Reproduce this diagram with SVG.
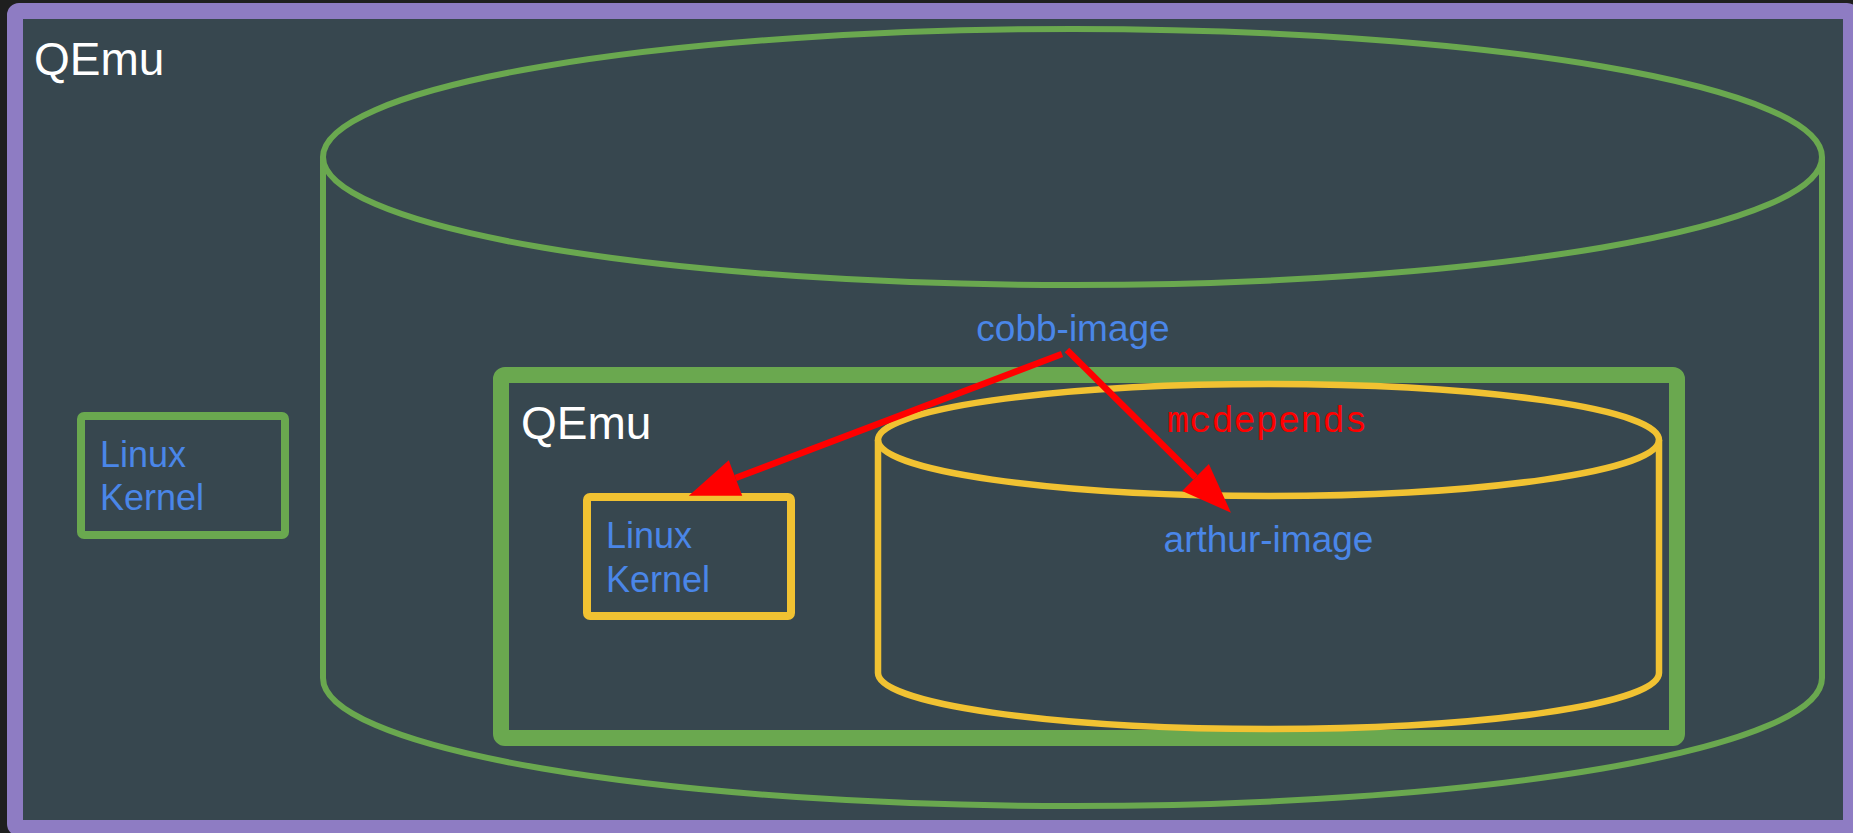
<svg xmlns="http://www.w3.org/2000/svg" width="1853" height="833" viewBox="0 0 1853 833">
  <defs>
    <style>
      .bg { fill: #1f1f1f; }
      .frame { fill: #37474f; stroke: #8e7cc3; stroke-width: 16; }
      .gcyl { fill: none; stroke: #6aa84f; stroke-width: 6; }
      .ycyl { fill: none; stroke: #f1c232; stroke-width: 6.5; }
      .grect { fill: none; stroke: #6aa84f; stroke-width: 16; }
      .gbox { fill: none; stroke: #6aa84f; stroke-width: 8; }
      .ybox { fill: none; stroke: #f1c232; stroke-width: 8; }
      .title { font-family: "Liberation Sans", Arial, sans-serif; font-size: 46px; fill: #ffffff; }
      .lbl { font-family: "Liberation Sans", Arial, sans-serif; font-size: 36px; fill: #4a86e8; }
      .img { font-family: "Liberation Sans", Arial, sans-serif; font-size: 37px; fill: #4a86e8; text-anchor: middle; }
      .elbl { font-family: "Liberation Mono", "Courier New", monospace; font-size: 37px; fill: #ff0000; }
      .edge { stroke: #ff0000; stroke-width: 6.5; fill: none; }
    </style>
    <marker id="arrow" markerUnits="userSpaceOnUse" markerWidth="50" markerHeight="38" refX="0" refY="19" orient="auto" overflow="visible">
      <path d="M0,0 L50,19 L0,38 z" fill="#ff0000"/>
    </marker>
  </defs>
  <rect class="bg" x="0" y="0" width="1853" height="833"/>
  <g id="qemu-outer">
    <rect class="frame" x="15" y="11" width="1836" height="817" rx="4"/>
    <text class="title" x="34" y="75">QEmu</text>
  </g>
  <g id="linux-kernel-outer">
    <rect class="gbox" x="81" y="416" width="204" height="119" rx="3"/>
    <text class="lbl" x="100" y="467">Linux</text>
    <text class="lbl" x="100" y="510">Kernel</text>
  </g>
  <g id="cobb-image">
    <path class="gcyl" d="M323,157 L323,678 A749.5,128 0 0 0 1822,678 L1822,157"/>
    <ellipse class="gcyl" cx="1072.5" cy="157" rx="749.5" ry="128"/>
    <text class="img" x="1073" y="341">cobb-image</text>
  </g>
  <g id="qemu-inner">
    <rect class="grect" x="501" y="375" width="1176" height="363" rx="4"/>
    <text class="title" x="521" y="439">QEmu</text>
  </g>
  <g id="linux-kernel-inner">
    <rect class="ybox" x="587" y="497" width="204" height="119" rx="3"/>
    <text class="lbl" x="606" y="548">Linux</text>
    <text class="lbl" x="606" y="592">Kernel</text>
  </g>
  <g id="arthur-image">
    <path class="ycyl" d="M878,440 L878,673 A390.5,56 0 0 0 1659,673 L1659,440"/>
    <ellipse class="ycyl" cx="1268.5" cy="440" rx="390.5" ry="56"/>
    <text class="img" x="1268.5" y="552">arthur-image</text>
  </g>
  <g id="connectors">
    <line class="edge" x1="1062" y1="354" x2="735.5" y2="478" marker-end="url(#arrow)"/>
    <line class="edge" x1="1067" y1="350" x2="1195.5" y2="477.5" marker-end="url(#arrow)"/>
    <text class="elbl" x="1167" y="432">mcdepends</text>
  </g>
</svg>
